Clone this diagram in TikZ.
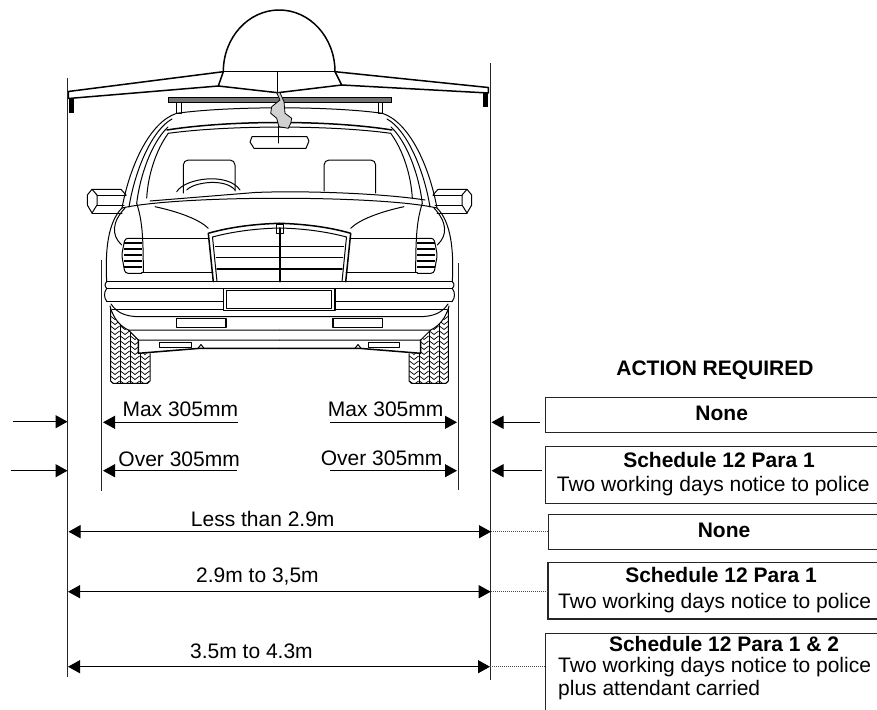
\documentclass[tikz,border=0pt]{standalone}
\usepackage{fontspec}
\setmainfont{Liberation Sans}
\usetikzlibrary{arrows.meta}
\newcommand{\halfcar}{%
  % tyre with tread
  \begin{scope}
    \clip (110.7,292) -- (110.7,381) -- (113,383.3) -- (147.5,383.3) -- (150,381) -- (150,292) -- cycle;
    \foreach \cx in {115,125,135,145}{
      \foreach \cy in {296,301,...,381}{
        \draw[tread] (\cx-4.6,\cy) -- (\cx,\cy+3.5) -- (\cx+4.6,\cy);
      }
    }
    \foreach \cx in {120,130,140}{\draw[tread] (\cx,292) -- (\cx,384);}
  \end{scope}
  \draw[car] (110.7,300) -- (110.7,381) -- (113,383.3) -- (147.5,383.3) -- (150,381) -- (150,345);
  % lower body covers tyre top
  \fill[white] (106,281) -- (279.5,281) -- (279.5,353) -- (138.3,353.3) -- (138.3,340) -- (128.3,330) .. controls (120,326) and (113,318) .. (110,306) -- (106,302) -- cycle;
  % rack leg
  \draw[car] (176.7,102.3) rectangle (181,113.3);
  % A-pillar
  \draw[car] (176.7,113.3) .. controls (150,122) and (130,165) .. (122,208);
  \draw[car] (172,119) .. controls (152,130) and (135,170) .. (129,207);
  \draw[car] (168,127) .. controls (152,142) and (140,175) .. (136.7,203.3);
  \draw[car] (168.3,133.3) .. controls (156,150) and (148,175) .. (146.7,198);
  % headrest
  \draw[car, rounded corners=5pt] (183.3,193) -- (183.3,160) -- (235,160) -- (235,191);
  % side mirror
  \draw[car] (87.3,195) -- (92,189.3) -- (97,195) -- (97,205) -- (92,213) -- (87.3,205) -- cycle;
  \draw[car] (92,189.3) -- (121,189.3) -- (126,195);
  \draw[car] (97,195) -- (126,195);
  \draw[car] (97,205) -- (124,205);
  \draw[car] (92,213) -- (122,213);
  % fenders
  \draw[car] (122,208) .. controls (108,222) and (105,250) .. (106.7,281.7);
  \draw[car] (125,208) .. controls (112,222) and (111,235) .. (121.7,245);
  \draw[car] (136.7,203.3) .. controls (142,220) and (143.3,235) .. (143.3,272);
  % hood crease
  \draw[car] (155,206.7) .. controls (180,212) and (200,220) .. (208.3,228.3);
  % headlight
  \draw[car, rounded corners=3pt] (141.7,238.3) -- (125,238.3) -- (121.7,255) -- (125,273.3) -- (141.7,273.3);
  \foreach \yy in {243,249,255,261,267}{\draw[line width=1.8pt] (124,\yy) -- (141.7,\yy);}
  % belt lines
  \draw[car] (141.7,238.3) -- (208.8,238.3);
  \draw[car] (141.7,272.5) -- (212.8,272.5);
  % grille half
  \draw[thick car] (213.3,281.7) -- (208.3,233.3) .. controls (230,227) and (255,224) .. (279.5,223.3);
  \draw[car] (217,281.7) -- (212.5,237) .. controls (235,231) and (258,228.5) .. (279.5,228);
  \draw[thick car] (215.5,246.7) -- (279.5,246.7);
  \draw[thick car] (216.5,257.3) -- (279.5,257.3);
  \draw[thick car] (217,269) -- (279.5,269);
  % bumper
  \draw[thick car] (106.7,281.7) -- (279.5,281.7);
  \draw[car] (106.7,288.3) -- (279.5,288.3);
  \draw[car] (106.7,281.7) .. controls (104.5,284) and (104.5,286) .. (106.7,288.3);
  \draw[car] (106.7,288.3) .. controls (103.5,293) and (104,298) .. (107,301.7);
  \draw[thick car] (107,301.7) -- (223.3,301.7);
  \draw[car] (112,309.3) -- (223.3,309.3);
  % valance
  \draw[car] (111,304) .. controls (117,313) and (126,316.7) .. (140,316.7) -- (279.5,316.7);
  \draw[car] (110,306) .. controls (113,318) and (120,326) .. (128.3,330) -- (279.5,330);
  \draw[car] (128.3,330) -- (138.3,340) -- (279.5,340);
  \draw[thick car] (138.3,340) -- (138.3,353.3) -- (200,348.3) -- (279.5,348.3);
  \draw[car] (198,348.3) -- (201,344.5) -- (204,348.3);
  % fog light and small lamp
  \draw[thick car] (176.7,318.3) rectangle (226,327.3);
  \draw[car] (159.3,342.7) rectangle (191,347.7);
}
\begin{document}
\begin{tikzpicture}[x=1pt,y=-1pt,
  lbl/.style={font=\fontsize{21}{25}\selectfont, inner sep=0pt},
  blbl/.style={font=\fontsize{21}{25}\selectfont\bfseries, inner sep=0pt},
  dimline/.style={line width=1pt, draw=black},
  tipend/.style={-{Triangle[length=12pt,width=13pt]}},
  tipboth/.style={{Triangle[length=12pt,width=13pt]}-{Triangle[length=12pt,width=13pt]}},
  boxst/.style={draw=black!85, line width=1.2pt, inner sep=0pt},
  guide/.style={line width=1.3pt, draw=black!85},
  car/.style={line width=1pt, line join=round, line cap=round},
  thick car/.style={line width=1.5pt, line join=round, line cap=round},
  tread/.style={line width=0.7pt},
  dotln/.style={line width=0.8pt, dash pattern=on 0.8pt off 1.2pt, draw=black!70},
]
\useasboundingbox (0,0) rectangle (877,709);

% ---------------- car ----------------
\halfcar
\begin{scope}[xshift=559pt, xscale=-1]
  \halfcar
\end{scope}

% roof box
\draw[thick car] (223.3,71.7) .. controls (223.3,37.6) and (248.3,10) .. (279.2,10) .. controls (310.1,10) and (335,37.6) .. (335,71.7);
\draw[thick car] (223.3,71.7) -- (335,71.7);
\draw[thick car] (223.3,71.7) -- (218.3,86) -- (277.7,92.7) -- (341.7,85) -- (335,71.7);
\draw[car] (277.7,72) -- (277.7,92.7);
\draw[thick car] (223.3,71.7) -- (68.3,91.5) -- (68.3,98.5) -- (218.3,86);
\draw[thick car] (335,71.7) -- (488.3,87.5) -- (488.3,93) -- (341.7,85);
\fill (69,98) rectangle (74,113);
\fill (483.3,92.7) rectangle (488.3,107.3);
% roof rack bar
\draw[line width=1pt, fill=black!55] (168.3,97.3) rectangle (391.7,102.3);
% roof and windscreen top
\draw[car] (176.7,113.3) .. controls (230,106) and (330,106) .. (382.3,113.3);
\draw[thick car] (167,130) .. controls (230,120) and (330,120) .. (392,130);
\draw[car] (168.3,133.3) .. controls (230,125) and (330,125) .. (390.7,133.3);
% hanging tag and interior mirror
\draw[car] (278.3,126) -- (278.3,143);
\draw[line width=0.8pt, fill=black!18] (276.7,92.7) -- (280,100) -- (271.7,106.7) -- (270.7,113.3) -- (276.7,118.3) -- (279,126.7) -- (288.3,128.3) -- (290.7,123.3) -- (291.7,118.3) -- (285,113.3) -- (284,101.7) -- (280,92.7) -- cycle;
\draw[car] (252,136.7) -- (307,136.7) -- (309,141) -- (306,148.3) -- (254,148.3) -- (250,142) -- cycle;
% steering wheel and dashboard
\draw[car] (176.7,191.7) .. controls (185,178) and (228,172) .. (240,190);
\draw[car] (186.7,190) .. controls (194,182) and (225,178) .. (235,190);
\draw[car] (150,201) -- (255,192.5) .. controls (300,190.5) and (380,193) .. (425,200);
\draw[car] (122,208) .. controls (180,195) and (380,195) .. (437,208);
% grille centre and emblem
\draw[thick car] (280,228) -- (280,281.7);
\draw[car] (276.7,224) rectangle (283,233.3);
% number plate
\draw[thick car] (223.3,288.3) rectangle (335,310.7);
\draw[car] (226.7,290.7) rectangle (331.7,308.3);

% ---------------- guide lines ----------------
\coordinate (LT) at (67.5,78);   \coordinate (LB) at (67.5,677);
\coordinate (RT) at (490.7,63);  \coordinate (RB) at (490.7,680);
\coordinate (ILT) at (101.7,260); \coordinate (ILB) at (101.7,491);
\coordinate (IRT) at (458.3,263); \coordinate (IRB) at (458.3,490);
\draw[guide] (LT) -- (LB);
\draw[guide] (RT) -- (RB);
\draw[guide, line width=1.1pt] (ILT) -- (ILB);
\draw[guide, line width=1.1pt] (IRT) -- (IRB);

% ---------------- tyre overhang arrows ----------------
\coordinate (a1s) at (12.7,421.7);  \coordinate (a1e) at (67.5,421.7);
\coordinate (a2s) at (10.7,470.7);  \coordinate (a2e) at (67.5,470.7);
\coordinate (b1s) at (238,422.3);   \coordinate (b1e) at (103,422.3);
\coordinate (b2s) at (237,470.7);   \coordinate (b2e) at (103,470.7);
\coordinate (c1s) at (330,422.3);   \coordinate (c1e) at (457,422.3);
\coordinate (c2s) at (330,470.7);   \coordinate (c2e) at (457,470.7);
\coordinate (d1s) at (540,422.3);   \coordinate (d1e) at (491.5,422.3);
\coordinate (d2s) at (541.7,470.7); \coordinate (d2e) at (491.5,470.7);
\foreach \p in {a1,a2,b1,b2,c1,c2,d1,d2}{\draw[dimline, tipend] (\p s) -- (\p e);}

\node[lbl, anchor=base east] (maxl) at (238.3,416) {Max 305mm};
\node[lbl, anchor=base east] (overl) at (240,466) {Over 305mm};
\node[lbl, anchor=base west] (maxr) at (327.7,416.7) {Max 305mm};
\node[lbl, anchor=base west] (overr) at (320.7,465) {Over 305mm};

% ---------------- width arrows ----------------
\coordinate (w1l) at (68.5,531.7); \coordinate (w1r) at (491,531.7);
\coordinate (w2l) at (68,591.7);   \coordinate (w2r) at (490.7,591.7);
\coordinate (w3l) at (68,666.7);   \coordinate (w3r) at (490,666.7);
\draw[dimline, tipboth] (w1l) -- (w1r);
\draw[dimline, tipboth] (w2l) -- (w2r);
\draw[dimline, tipboth] (w3l) -- (w3r);
\node[lbl, anchor=base west] (t1) at (190.7,526) {Less than 2.9m};
\node[lbl, anchor=base west] (t2) at (196,582.7) {2.9m to 3,5m};
\node[lbl, anchor=base west] (t3) at (190,658.3) {3.5m to 4.3m};

% ---------------- action boxes ----------------
\node[blbl] (head) at (715,370) {ACTION REQUIRED};
\node[boxst, anchor=north west, minimum width=360pt, minimum height=35pt] (box1) at (545,396.7) {};
\node[boxst, anchor=north west, minimum width=360pt, minimum height=57pt] (box2) at (545,446) {};
\node[boxst, anchor=north west, minimum width=360pt, minimum height=34.7pt] (box3) at (547.5,514) {};
\node[boxst, anchor=north west, minimum width=360pt, minimum height=56.6pt] (box4) at (547.3,561.7) {};
\node[boxst, anchor=north west, minimum width=360pt, minimum height=90pt] (box5) at (545,632.7) {};

\node[blbl, anchor=base] (n1) at (721.7,420) {None};
\node[blbl, anchor=base] (s2) at (719,467.3) {Schedule 12 Para 1};
\node[lbl, anchor=base west] (p2) at (556.7,491.7) {Two working days notice to police};
\node[blbl, anchor=base] (n3) at (724,537.3) {None};
\node[blbl, anchor=base] (s4) at (721,582.7) {Schedule 12 Para 1};
\node[lbl, anchor=base west] (p4) at (558,608.3) {Two working days notice to police};
\node[blbl, anchor=base] (s5) at (724,651.7) {Schedule 12 Para 1 \& 2};
\node[lbl, anchor=base west] (p5) at (558,672.3) {Two working days notice to police};
\node[lbl, anchor=base west] (q5) at (558,695) {plus attendant carried};

% dotted leaders
\coordinate (e1) at (547.5,531.7);
\coordinate (e2) at (547.3,591.7);
\coordinate (e3) at (545,666.7);
\draw[dotln] (w1r) -- (e1);
\draw[dotln] (w2r) -- (e2);
\draw[dotln] (w3r) -- (e3);
\end{tikzpicture}
\end{document}
